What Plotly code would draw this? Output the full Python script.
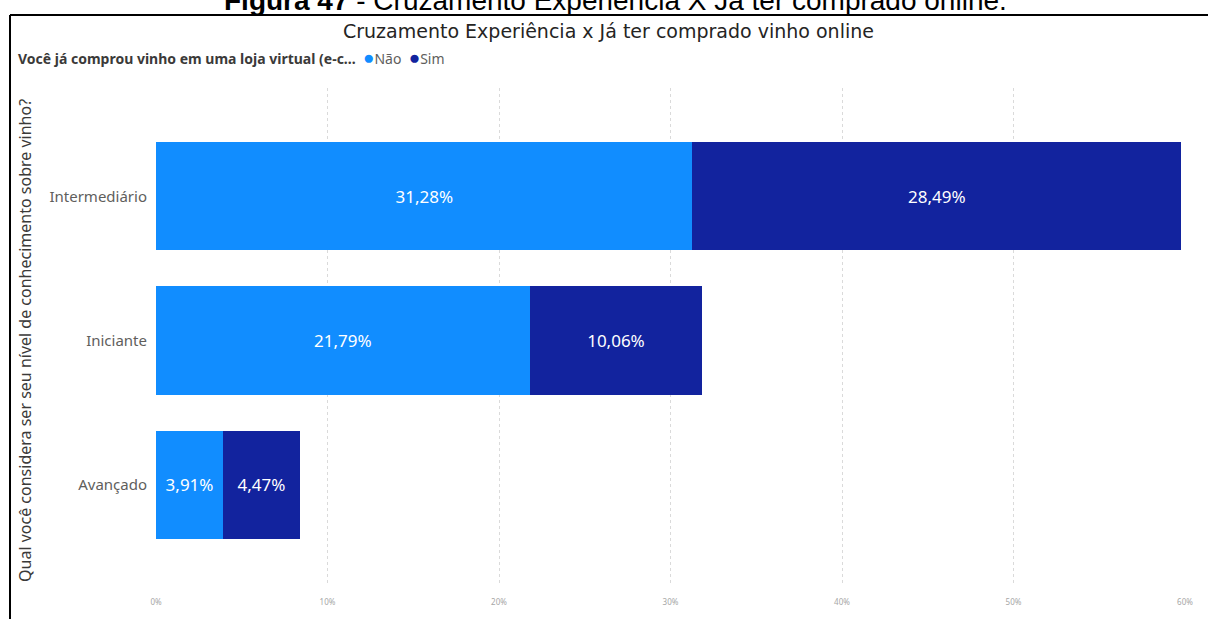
import plotly.graph_objects as go

# Knowledge level categories (bottom to top) and share of respondents (%)
categories = ["Avançado", "Iniciante", "Intermediário"]
nao_values = [3.91, 21.79, 31.28]
sim_values = [4.47, 10.06, 28.49]
x_ticks = [0, 10, 20, 30, 40, 50, 60]
x_tick_labels = ["0%", "10%", "20%", "30%", "40%", "50%", "60%"]

COLOR_NAO = "#118DFF"
COLOR_SIM = "#12239E"

W, H = 1208, 619
L, R, T, B = 156, 23, 88, 27


def py(pixel_y):
    """Convert a pixel row into paper coordinates."""
    return (H - B - pixel_y) / (H - T - B)


def px(pixel_x):
    return (pixel_x - L) / (W - L - R)


fig = go.Figure()

for name, vals, color in [("Não", nao_values, COLOR_NAO), ("Sim", sim_values, COLOR_SIM)]:
    fig.add_trace(go.Bar(
        y=categories, x=vals, orientation="h", name=name,
        marker=dict(color=color, line=dict(width=0)),
        text=vals, texttemplate="%{x:.2f}%", textposition="inside",
        insidetextanchor="middle", constraintext="none",
        textfont=dict(family="Noto Sans", size=17, color="white"),
        showlegend=False, hoverinfo="skip",
    ))

dot = "<span style='color:{c};font-size:19px'>●</span>"
legend_text = (
    "<b>Você já comprou vinho em uma loja virtual (e-c...</b>  "
    + dot.format(c=COLOR_NAO) + "<span style='color:#605E5C'>Não</span>  "
    + dot.format(c=COLOR_SIM) + "<span style='color:#605E5C'>Sim</span>"
)

fig.update_layout(
    width=W, height=H,
    margin=dict(l=L, r=R, t=T, b=B),
    paper_bgcolor="white", plot_bgcolor="white",
    barmode="stack", bargap=0.25,
    separators=",.",
    showlegend=False,
    xaxis=dict(
        range=[0, 60], tickvals=x_ticks, ticktext=x_tick_labels,
        showgrid=True, gridcolor="#DADADA", griddash="dot", gridwidth=1,
        zeroline=False, showline=False, ticks="", ticklabelstandoff=10,
        tickfont=dict(family="Noto Sans", size=8, color="#A6A6A6"),
        fixedrange=True,
    ),
    yaxis=dict(
        range=[-0.7, 2.75], showgrid=False, zeroline=False, showline=False,
        ticks="", ticklabelstandoff=8,
        tickfont=dict(family="Noto Sans", size=15, color="#605E5C"),
        fixedrange=True,
    ),
    annotations=[
        dict(text="Cruzamento Experiência x Já ter comprado vinho online",
             xref="paper", yref="paper", x=px(608), y=py(30),
             xanchor="center", yanchor="middle", showarrow=False,
             font=dict(family="DejaVu Sans", size=19, color="#252423")),
        dict(text=legend_text,
             xref="paper", yref="paper", x=px(16), y=py(57),
             xanchor="left", yanchor="middle", showarrow=False,
             font=dict(family="Noto Sans", size=14, color="#3B3A39")),
        dict(text="Qual você considera ser seu nível de conhecimento sobre vinho?",
             xref="paper", yref="paper", x=px(25), y=py(344),
             xanchor="center", yanchor="middle", textangle=-90, showarrow=False,
             font=dict(family="Noto Sans", size=16, color="#3B3A39")),
        dict(text="<b>Figura 47</b> - Cruzamento Experiência X Já ter comprado online.",
             xref="paper", yref="paper", x=px(615), y=py(17),
             xanchor="center", yanchor="bottom", showarrow=False,
             font=dict(family="Liberation Sans", size=28, color="black")),
    ],
    shapes=[
        dict(type="line", xref="paper", yref="paper",
             x0=px(10), x1=px(1300), y0=py(14), y1=py(14),
             line=dict(color="black", width=2)),
        dict(type="line", xref="paper", yref="paper",
             x0=px(10), x1=px(10), y0=py(14), y1=py(700),
             line=dict(color="black", width=2)),
    ],
)

fig.write_html("out.html")
